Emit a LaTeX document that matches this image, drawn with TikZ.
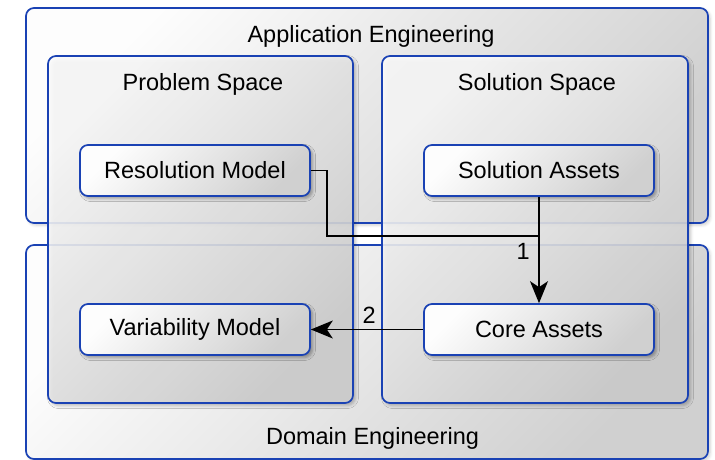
\documentclass[tikz,border=0pt]{standalone}
\usepackage{fontspec}
\setmainfont{Liberation Sans}
\usetikzlibrary{arrows.meta,shadows.blur}
\definecolor{edgeblue}{RGB}{26,66,180}
\definecolor{lightfill}{RGB}{253,253,253}
\definecolor{darkfill}{RGB}{208,208,208}
\tikzset{
  box/.style={draw=edgeblue, line width=1.7pt, rounded corners=8pt,
    top color=lightfill, bottom color=darkfill, shading angle=45},
  outerbox/.style={box, blur shadow={shadow xshift=2pt, shadow yshift=-2pt, shadow blur radius=3pt, shadow opacity=20}},
  spacebox/.style={box, fill opacity=0.88, blur shadow={shadow xshift=2.5pt, shadow yshift=-2.5pt, shadow blur radius=3pt, shadow opacity=30}},
  elem/.style={box, minimum width=230pt, minimum height=51pt, inner sep=0pt,
    font=\fontsize{23.5}{28}\selectfont,
    blur shadow={shadow xshift=2.5pt, shadow yshift=-2.5pt, shadow blur radius=3pt, shadow opacity=35}},
  title/.style={font=\fontsize{23.5}{28}\selectfont, anchor=base, inner sep=0pt},
  conn/.style={line width=1.5pt, black},
  arr/.style={conn, -{Stealth[length=22pt, width=18pt, inset=6pt]}},
  num/.style={font=\fontsize{23.5}{28}\selectfont, inner sep=0pt}
}
\begin{document}
\begin{tikzpicture}[x=1pt, y=-1pt]
\useasboundingbox (0,0) rectangle (715,460);
% outer regions
\node[outerbox, minimum width=682pt, minimum height=215pt] (app) at (367,115.5) {};
\node[outerbox, minimum width=682pt, minimum height=214pt] (dom) at (367,352) {};
% spaces
\node[spacebox, minimum width=305pt, minimum height=347pt] (prob) at (200.5,229.5) {};
\node[spacebox, minimum width=306pt, minimum height=347pt] (solsp) at (535,229.5) {};
% titles
\node[title] (tapp) at (371,43) {Application Engineering};
\node[title] (tprob) at (203,91) {Problem Space};
\node[title] (tsol) at (537,91) {Solution Space};
\node[title] (tdom) at (372.5,444) {Domain Engineering};
% elements
\node[elem] (res) at (195,170.5) {Resolution Model};
\node[elem] (sol) at (539,170.5) {Solution Assets};
\node[elem] (var) at (195,329.5) {Variability Model};
\node[elem] (core) at (539,329.5) {Core Assets};
% connectors
\coordinate (r1) at (327,236);
\draw[conn] (res.east) -| (r1) -- (r1 -| sol.south);
\draw[arr] (sol.south) -- (core.north) node[num, pos=0.593, anchor=base east, xshift=-8.5pt] {1};
\draw[arr] (core.west) -- (var.east) node[num, pos=0.48, anchor=base, yshift=6pt] {2};
\end{tikzpicture}
\end{document}
